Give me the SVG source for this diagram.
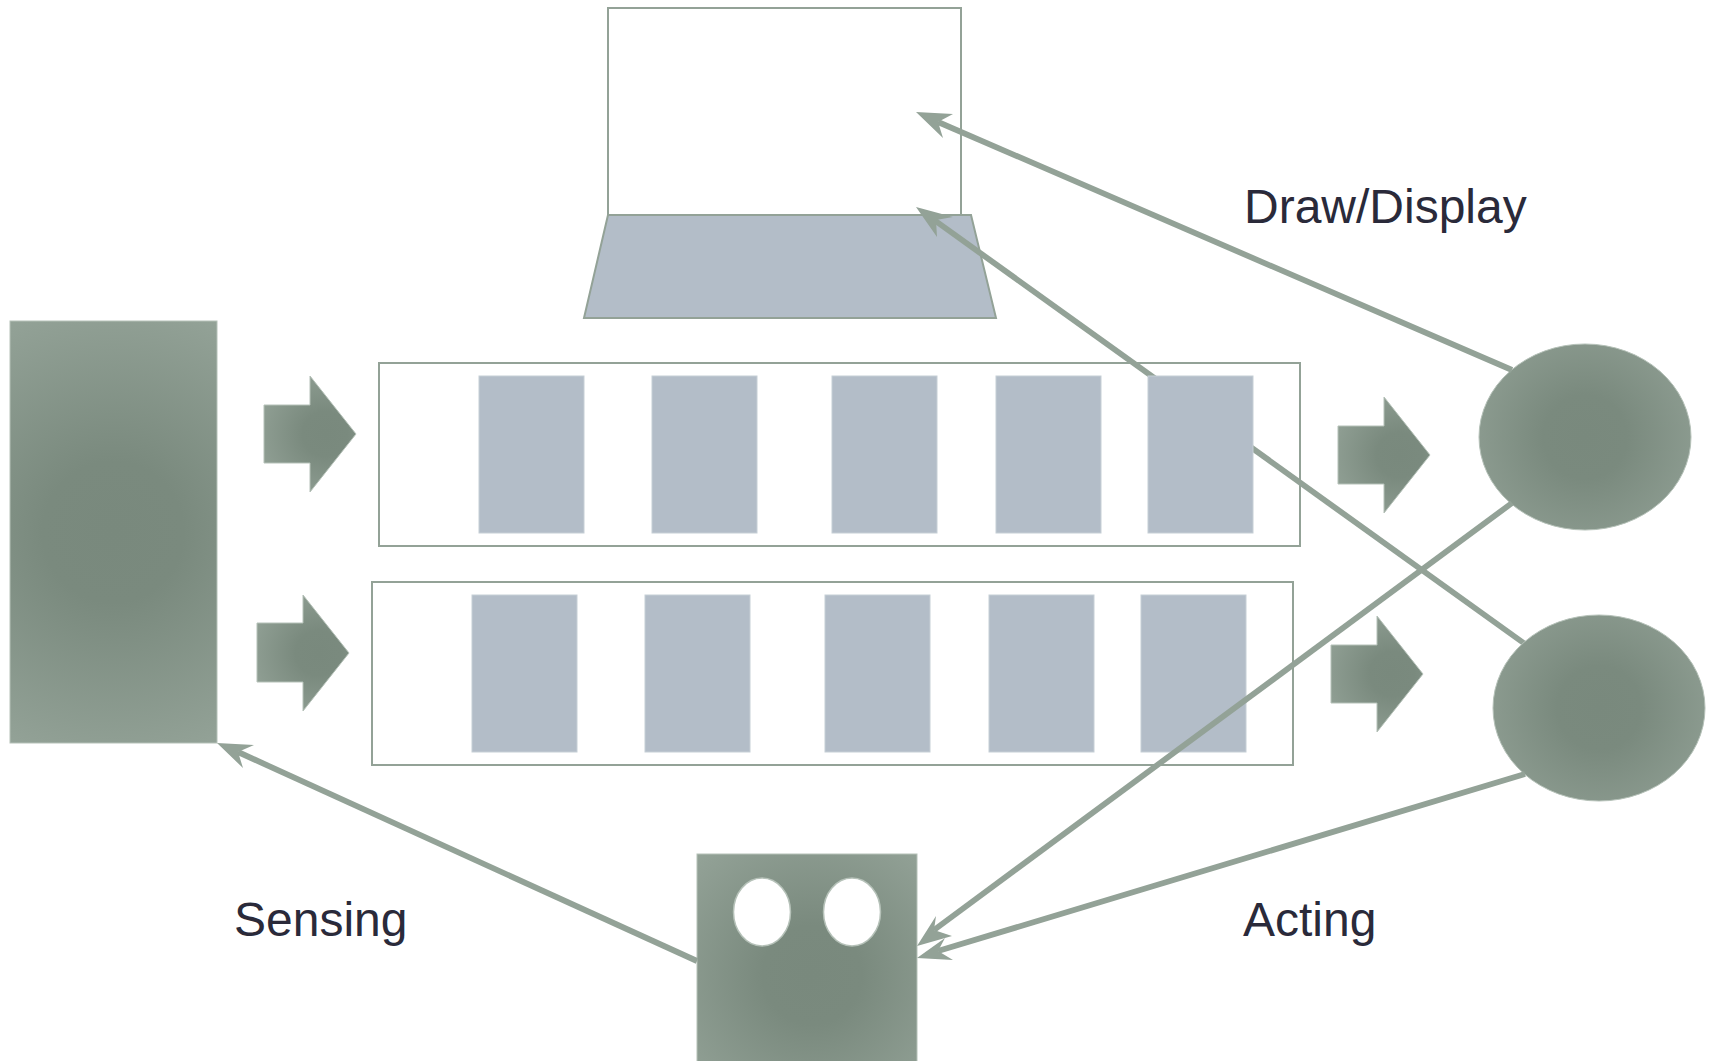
<svg xmlns="http://www.w3.org/2000/svg" width="1714" height="1061" viewBox="0 0 1714 1061">
<style>
.g{stroke:#b5c1b8;stroke-width:1}
.box{fill:none;stroke:#93a297;stroke-width:2}
.card{fill:#b3bdc8;stroke:#c6cfd6;stroke-width:1}
.ln{fill:none;stroke:#93a297;stroke-width:5.800}
.hd{fill:#93a297}
text{font-family:"Liberation Sans",Arial,sans-serif;font-size:48px;fill:#2a2a3a}
</style>
<defs>
<radialGradient id="grad">
<stop offset="0" stop-color="#79897d"/>
<stop offset="0.3" stop-color="#7a8a7e"/>
<stop offset="1" stop-color="#93a297"/>
</radialGradient>
<radialGradient id="gs" href="#grad" gradientUnits="userSpaceOnUse" cx="113" cy="532" r="235"/>
<radialGradient id="ga1" href="#grad" gradientUnits="userSpaceOnUse" cx="325" cy="434" r="75"/>
<radialGradient id="ga2" href="#grad" gradientUnits="userSpaceOnUse" cx="318" cy="653" r="75"/>
<radialGradient id="ga3" href="#grad" gradientUnits="userSpaceOnUse" cx="1399" cy="455" r="75"/>
<radialGradient id="ga4" href="#grad" gradientUnits="userSpaceOnUse" cx="1392" cy="674" r="75"/>
<radialGradient id="ge1" href="#grad" gradientUnits="userSpaceOnUse" cx="1585" cy="437" r="140"/>
<radialGradient id="ge2" href="#grad" gradientUnits="userSpaceOnUse" cx="1599" cy="708" r="140"/>
<radialGradient id="gr" href="#grad" gradientUnits="userSpaceOnUse" cx="812" cy="975" r="165"/>
</defs>
<g id="laptop">
<rect class="box" x="608" y="8" width="353" height="207" fill="#fff"/>
<path d="M608 215H971L996 318H584Z" fill="#b3bdc8" stroke="#93a297" stroke-width="2"/>
</g>
<g id="connector-under">
<path class="ln" d="M1525 644L930 217"/>
<path class="hd" d="M916 207L953 217L936 220L937 237Z"/>
</g>
<g id="sensor"><rect class="g" fill="url(#gs)" x="10" y="321" width="207" height="422"/></g>
<g id="arrow-1"><path class="g" fill="url(#ga1)" d="M264 405H310V376L356 434L310 492V463H264Z"/></g>
<g id="arrow-2"><path class="g" fill="url(#ga2)" d="M257 623H303V595L349 653L303 711V682H257Z"/></g>
<g id="arrow-3"><path class="g" fill="url(#ga3)" d="M1338 426H1384V397L1430 455L1384 513V484H1338Z"/></g>
<g id="arrow-4"><path class="g" fill="url(#ga4)" d="M1331 645H1377V616L1423 674L1377 732V703H1331Z"/></g>
<g id="row-1">
<rect class="box" x="379" y="363" width="921" height="183"/>
<rect class="card" x="479" y="376" width="105" height="157"/>
<rect class="card" x="652" y="376" width="105" height="157"/>
<rect class="card" x="832" y="376" width="105" height="157"/>
<rect class="card" x="996" y="376" width="105" height="157"/>
<rect class="card" x="1148" y="376" width="105" height="157"/>
</g>
<g id="row-2">
<rect class="box" x="372" y="582" width="921" height="183"/>
<rect class="card" x="472" y="595" width="105" height="157"/>
<rect class="card" x="645" y="595" width="105" height="157"/>
<rect class="card" x="825" y="595" width="105" height="157"/>
<rect class="card" x="989" y="595" width="105" height="157"/>
<rect class="card" x="1141" y="595" width="105" height="157"/>
</g>
<g id="ellipse-1"><ellipse class="g" fill="url(#ge1)" cx="1585" cy="437" rx="106" ry="93"/></g>
<g id="ellipse-2"><ellipse class="g" fill="url(#ge2)" cx="1599" cy="708" rx="106" ry="93"/></g>
<g id="robot">
<rect class="g" fill="url(#gr)" x="697" y="854" width="220" height="220"/>
<ellipse cx="762" cy="912" rx="28.500" ry="34" fill="#fff" stroke="#b5c1b8" stroke-width="1.500"/>
<ellipse cx="852" cy="912" rx="28.500" ry="34" fill="#fff" stroke="#b5c1b8" stroke-width="1.500"/>
</g>
<g id="connectors">
<path class="ln" d="M1512 370L938 122"/>
<path class="hd" d="M916 112L953 114L938 122L943 138Z"/>
<path class="ln" d="M1512 503L934 930"/>
<path class="hd" d="M917 946L936 916L934 930L952 936Z"/>
<path class="ln" d="M1525 774L938 951"/>
<path class="hd" d="M917 958L945 938L938 951L953 960Z"/>
<path class="ln" d="M697 961L238 752"/>
<path class="hd" d="M217 743L254 745L238 752L243 768Z"/>
</g>
<text x="1244" y="223">Draw/Display</text>
<text x="234" y="936">Sensing</text>
<text x="1243" y="936">Acting</text>
</svg>
